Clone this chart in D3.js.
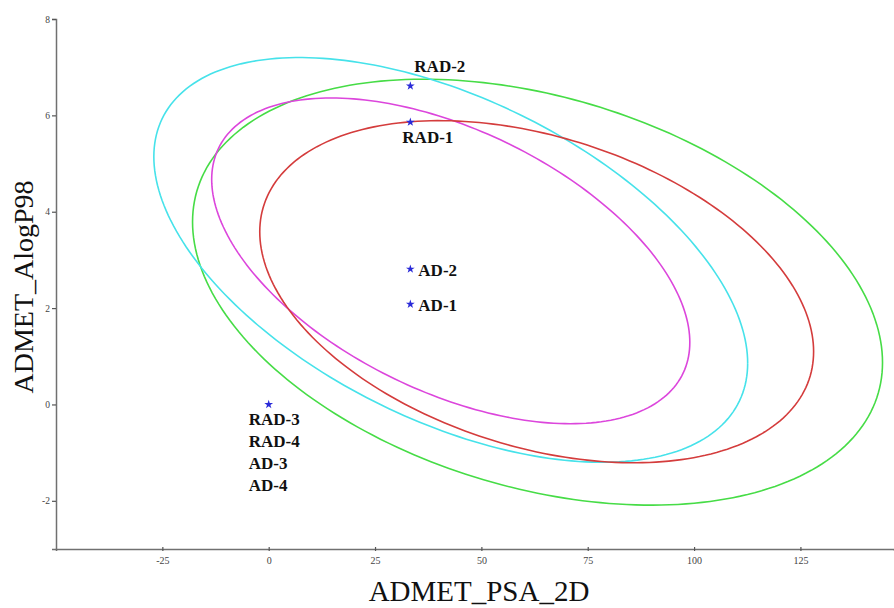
<!DOCTYPE html>
<html>
<head>
<meta charset="utf-8">
<script src="https://cdn.jsdelivr.net/npm/d3@7"></script>
<style>
  body { margin: 0; background: #fff; }
  svg { display: block; }
</style>
</head>
<body>
<svg id="chart" width="894" height="608"></svg>
<script>
// compounds plotted as blue stars
const compounds = ["RAD-1", "RAD-2", "RAD-3", "RAD-4", "AD-1", "AD-2", "AD-3", "AD-4"];
const psa2d = [33.3, 33.3, 0, 0, 33.3, 33.3, 0, 0];
const alogp98 = [5.86, 6.61, 0, 0, 2.08, 2.81, 0, 0];

// confidence ellipses (centre, half extents, correlation)
const ellipseNames = ["setA-99", "setB-99", "setB-95", "setA-95"];
const ellipseCx = [63.2, 42.8, 42.8, 63.0];
const ellipseCy = [2.33, 3.0, 2.98, 2.34];
const ellipseRx = [81.1, 69.8, 56.2, 65.1];
const ellipseRy = [4.42, 4.20, 3.38, 3.55];
const ellipseRho = [-0.33, -0.51, -0.50, -0.35];

const xTicks = [-25, 0, 25, 50, 75, 100, 125];
const yTicks = [-2, 0, 2, 4, 6, 8];

const svg = d3.select("#chart");

const x = d3.scaleLinear().domain([-50, 147]).range([56, 894]);
const y = d3.scaleLinear().domain([-3, 8]).range([549, 19]);

const color = d3.scaleOrdinal()
  .domain(ellipseNames)
  .range(["#46dc46", "#46e2ea", "#dc46dc", "#d43c3c"]);

// ellipses
const steps = d3.range(0, 241).map(i => 2 * Math.PI * i / 240);
const line = d3.line().x(d => x(d[0])).y(d => y(d[1]));

ellipseNames.forEach((name, i) => {
  const s = Math.sqrt(1 - ellipseRho[i] * ellipseRho[i]);
  const pts = steps.map(t => [
    ellipseCx[i] + ellipseRx[i] * Math.cos(t),
    ellipseCy[i] + ellipseRy[i] * (ellipseRho[i] * Math.cos(t) - s * Math.sin(t))
  ]);
  svg.append("path")
    .attr("d", line(pts))
    .attr("fill", "none")
    .attr("stroke", color(name))
    .attr("stroke-width", 1.6);
});

// axes
const xAxis = svg.append("g")
  .attr("transform", "translate(0," + y.range()[0] + ")")
  .call(d3.axisBottom(x).tickValues(xTicks).tickFormat(d => String(d)).tickSize(2).tickPadding(6));
xAxis.selectAll(".tick line").attr("y1", -2).attr("y2", 2);

const yAxis = svg.append("g")
  .attr("transform", "translate(" + x.range()[0] + ",0)")
  .call(d3.axisLeft(y).tickValues(yTicks).tickFormat(d => String(d)).tickSize(4).tickPadding(2));

[xAxis, yAxis].forEach(g => {
  g.select(".domain").attr("stroke", "#707070").attr("stroke-width", 1.5);
  g.selectAll(".tick line").attr("stroke", "#555").attr("stroke-width", 1.2);
  g.selectAll(".tick text")
    .attr("fill", "#444")
    .style("font-family", "'Liberation Serif', 'DejaVu Serif', serif")
    .style("font-size", "10px");
});
yAxis.selectAll(".tick text").style("font-size", "9.5px");

// axis titles
svg.append("text")
  .attr("x", 479)
  .attr("y", 601)
  .attr("text-anchor", "middle")
  .style("font-family", "'Liberation Serif', serif")
  .style("font-size", "29px")
  .attr("fill", "#111")
  .text("ADMET_PSA_2D");

svg.append("text")
  .attr("transform", "translate(33,287) rotate(-90)")
  .attr("text-anchor", "middle")
  .style("font-family", "'Liberation Serif', serif")
  .style("font-size", "28px")
  .attr("fill", "#111")
  .text("ADMET_AlogP98");

// points: overlapping compounds share a star and stack their labels
const pointGroups = d3.groups(compounds.map((c, i) => ({name: c, px: psa2d[i], py: alogp98[i]})),
  d => d.px + "," + d.py);

const star = d3.symbol().type(d3.symbolStar).size(24);

// label placement relative to the star
const labelOffset = {
  "RAD-2": [4, -14, "start"],
  "RAD-1": [-8, 21, "start"],
  "AD-2": [8, 7, "start"],
  "AD-1": [8, 7, "start"],
  "0,0": [-20, 21, "start"]
};

pointGroups.forEach(([key, items]) => {
  const p = items[0];
  svg.append("path")
    .attr("d", star())
    .attr("transform", "translate(" + x(p.px) + "," + y(p.py) + ")")
    .attr("fill", "#2a2ad8");

  const off = items.length > 1 ? labelOffset[key] : labelOffset[p.name];
  const order = items.length > 1 ? ["RAD-3", "RAD-4", "AD-3", "AD-4"] : [p.name];
  order.forEach((name, j) => {
    svg.append("text")
      .attr("x", x(p.px) + off[0])
      .attr("y", y(p.py) + off[1] + j * 22)
      .attr("text-anchor", off[2])
      .style("font-family", "'Liberation Serif', serif")
      .style("font-weight", "bold")
      .style("font-size", "17px")
      .attr("fill", "#111")
      .text(name);
  });
});
</script>
</body>
</html>
